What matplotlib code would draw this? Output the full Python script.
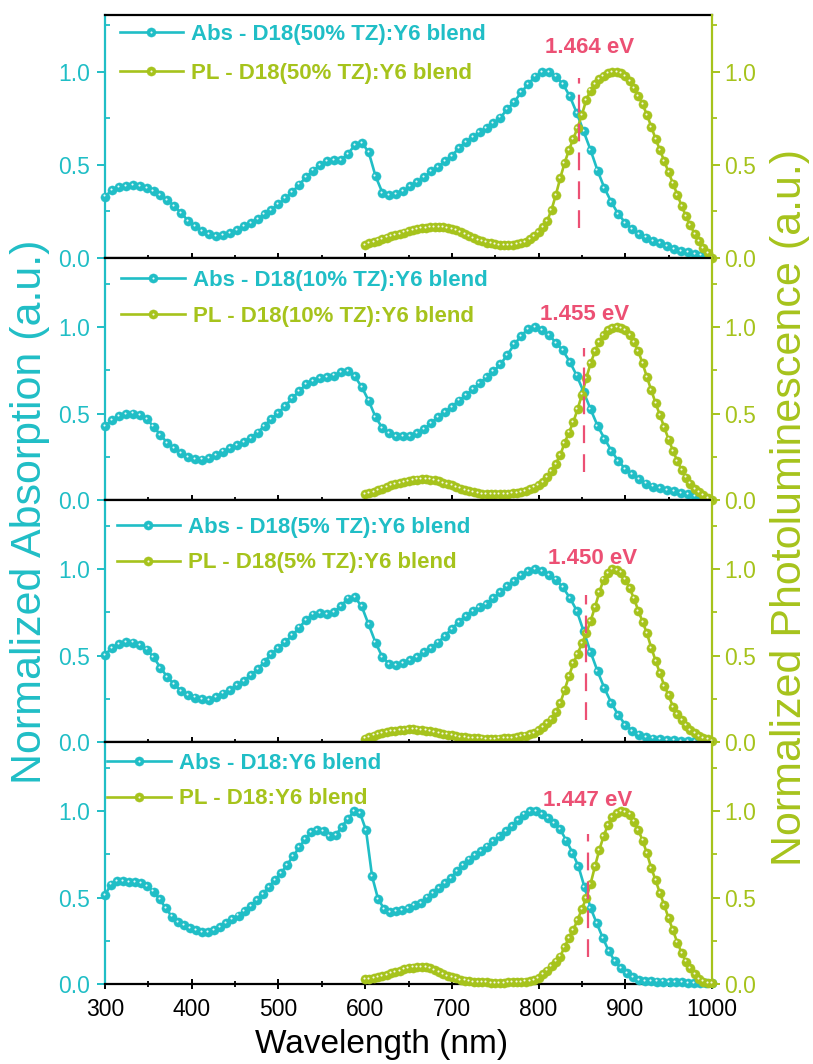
import numpy as np
import matplotlib
matplotlib.use('Agg')
import matplotlib.pyplot as plt
from matplotlib.transforms import offset_copy
from matplotlib.legend_handler import HandlerTuple
from matplotlib.ticker import MultipleLocator, FormatStrFormatter

plt.rcParams['font.family'] = ['Liberation Sans', 'DejaVu Sans']

TEAL = '#20BEC6'
LIME = '#A6C31C'
PINK = '#EC5074'

# wavelength grids (nm)
wl_abs = np.arange(300, 1000, 8)      # panels 1-3
wl_abs_d18 = np.arange(300, 1001, 7)  # panel 4
wl_pl = np.arange(600, 1001, 5)

# ---- D18(50% TZ):Y6 ----
abs_50 = [0.33, 0.365, 0.38, 0.388, 0.39, 0.385, 0.377, 0.36, 0.34, 0.31,
          0.28, 0.24, 0.20, 0.17, 0.145, 0.13, 0.12, 0.125, 0.135, 0.15,
          0.17, 0.19, 0.21, 0.235, 0.26, 0.29, 0.32, 0.355, 0.395, 0.435,
          0.47, 0.50, 0.52, 0.525, 0.525, 0.56, 0.605, 0.62, 0.57, 0.44,
          0.35, 0.34, 0.345, 0.36, 0.385, 0.41, 0.435, 0.465, 0.49, 0.52,
          0.55, 0.59, 0.625, 0.65, 0.675, 0.70, 0.725, 0.755, 0.80, 0.84,
          0.89, 0.935, 0.975, 0.998, 1.0, 0.975, 0.935, 0.87, 0.78, 0.68,
          0.58, 0.47, 0.375, 0.30, 0.235, 0.19, 0.155, 0.13, 0.11, 0.093,
          0.078, 0.062, 0.048, 0.038, 0.03, 0.022, 0.014, 0.005]
pl_50 = [0.07, 0.078, 0.086, 0.094, 0.102, 0.11, 0.118, 0.125, 0.131, 0.137,
         0.143, 0.149, 0.154, 0.159, 0.163, 0.166, 0.167, 0.167, 0.165, 0.162,
         0.157, 0.149, 0.139, 0.127, 0.116, 0.106, 0.097, 0.089, 0.083, 0.078,
         0.074, 0.071, 0.07, 0.07, 0.071, 0.073, 0.078, 0.086, 0.10, 0.12,
         0.14, 0.165, 0.20, 0.26, 0.34, 0.43, 0.51, 0.58, 0.64, 0.70,
         0.77, 0.85, 0.90, 0.935, 0.96, 0.98, 0.992, 0.999, 1.0, 0.993,
         0.978, 0.952, 0.915, 0.872, 0.825, 0.77, 0.705, 0.64, 0.58, 0.52,
         0.46, 0.40, 0.34, 0.28, 0.225, 0.175, 0.13, 0.09, 0.055, 0.025,
         0.0]

# ---- D18(10% TZ):Y6 ----
abs_10 = [0.43, 0.46, 0.485, 0.498, 0.50, 0.49, 0.468, 0.425, 0.375, 0.33,
          0.298, 0.272, 0.25, 0.238, 0.234, 0.243, 0.258, 0.28, 0.30, 0.317,
          0.337, 0.36, 0.39, 0.43, 0.47, 0.505, 0.545, 0.59, 0.63, 0.67,
          0.69, 0.703, 0.71, 0.72, 0.74, 0.745, 0.715, 0.655, 0.575, 0.48,
          0.415, 0.385, 0.37, 0.368, 0.372, 0.385, 0.41, 0.445, 0.48, 0.51,
          0.54, 0.575, 0.605, 0.64, 0.675, 0.71, 0.745, 0.785, 0.84, 0.90,
          0.95, 0.99, 1.0, 0.985, 0.955, 0.91, 0.865, 0.80, 0.72, 0.625,
          0.525, 0.43, 0.355, 0.285, 0.225, 0.18, 0.15, 0.122, 0.095, 0.078,
          0.068, 0.058, 0.05, 0.042, 0.034, 0.025, 0.016, 0.006]
pl_10 = [0.035, 0.038, 0.045, 0.055, 0.066, 0.077, 0.086, 0.094, 0.10, 0.106,
         0.111, 0.115, 0.118, 0.12, 0.12, 0.118, 0.114, 0.108, 0.10, 0.092,
         0.084, 0.075, 0.066, 0.058, 0.051, 0.045, 0.04, 0.036, 0.034, 0.032,
         0.032, 0.033, 0.034, 0.036, 0.038, 0.042, 0.047, 0.054, 0.062, 0.072,
         0.088, 0.106, 0.135, 0.17, 0.21, 0.26, 0.33, 0.39, 0.45, 0.525,
         0.61, 0.705, 0.79, 0.86, 0.915, 0.955, 0.983, 0.997, 1.0, 0.995,
         0.985, 0.955, 0.915, 0.86, 0.79, 0.71, 0.635, 0.56, 0.49, 0.42,
         0.35, 0.285, 0.225, 0.175, 0.13, 0.095, 0.065, 0.045, 0.028, 0.013,
         0.0]

# ---- D18(5% TZ):Y6 ----
abs_5 = [0.505, 0.544, 0.567, 0.577, 0.575, 0.562, 0.535, 0.49, 0.43, 0.375,
         0.333, 0.295, 0.27, 0.257, 0.246, 0.245, 0.258, 0.28, 0.303, 0.327,
         0.355, 0.386, 0.42, 0.465, 0.51, 0.544, 0.58, 0.617, 0.662, 0.708,
         0.737, 0.746, 0.742, 0.753, 0.785, 0.83, 0.838, 0.785, 0.68, 0.575,
         0.49, 0.452, 0.446, 0.456, 0.472, 0.492, 0.518, 0.545, 0.575, 0.615,
         0.655, 0.695, 0.73, 0.758, 0.78, 0.80, 0.835, 0.865, 0.90, 0.93,
         0.965, 0.99, 1.0, 0.988, 0.965, 0.94, 0.894, 0.835, 0.76, 0.64,
         0.52, 0.41, 0.31, 0.225, 0.155, 0.10, 0.065, 0.043, 0.03, 0.02,
         0.015, 0.012, 0.01, 0.008, 0.006, 0.004, 0.002, 0.001]
pl_5 = [0.02, 0.028, 0.037, 0.045, 0.051, 0.056, 0.061, 0.065, 0.069, 0.071,
        0.073, 0.073, 0.072, 0.07, 0.066, 0.062, 0.058, 0.053, 0.048, 0.043,
        0.038, 0.034, 0.03, 0.027, 0.025, 0.023, 0.021, 0.02, 0.019, 0.019,
        0.019, 0.02, 0.021, 0.023, 0.025, 0.028, 0.032, 0.037, 0.044, 0.053,
        0.068, 0.089, 0.11, 0.135, 0.175, 0.224, 0.30, 0.38, 0.455, 0.51,
        0.57, 0.63, 0.70, 0.78, 0.865, 0.94, 0.975, 0.998, 0.997, 0.98,
        0.94, 0.89, 0.83, 0.76, 0.695, 0.628, 0.545, 0.47, 0.397, 0.325,
        0.27, 0.204, 0.16, 0.125, 0.095, 0.07, 0.05, 0.035, 0.025, 0.015,
        0.008]

# ---- D18:Y6 ----
abs_0 = [0.516, 0.575, 0.595, 0.594, 0.59, 0.59, 0.585, 0.565, 0.535, 0.49,
         0.44, 0.39, 0.36, 0.34, 0.323, 0.31, 0.30, 0.298, 0.31, 0.33,
         0.355, 0.377, 0.396, 0.42, 0.453, 0.487, 0.521, 0.563, 0.602, 0.642,
         0.69, 0.74, 0.79, 0.84, 0.878, 0.893, 0.884, 0.858, 0.86, 0.91,
         0.955, 0.998, 0.99, 0.89, 0.623, 0.49, 0.435, 0.418, 0.42, 0.428,
         0.44, 0.455, 0.47, 0.50, 0.526, 0.555, 0.585, 0.615, 0.655, 0.69,
         0.72, 0.745, 0.77, 0.795, 0.825, 0.855, 0.885, 0.915, 0.95, 0.98,
         0.998, 0.998, 0.985, 0.96, 0.93, 0.894, 0.83, 0.76, 0.68, 0.56,
         0.44, 0.352, 0.268, 0.19, 0.132, 0.09, 0.062, 0.04, 0.025, 0.018,
         0.015, 0.014, 0.014, 0.013, 0.012, 0.01, 0.008, 0.007, 0.006, 0.005,
         0.004]
pl_0 = [0.027, 0.03, 0.035, 0.04, 0.046, 0.053, 0.061, 0.069, 0.077, 0.084,
        0.09, 0.095, 0.099, 0.10, 0.098, 0.092, 0.082, 0.07, 0.058, 0.048,
        0.04, 0.032, 0.025, 0.02, 0.016, 0.013, 0.011, 0.01, 0.009, 0.008,
        0.008, 0.008, 0.008, 0.009, 0.01, 0.011, 0.012, 0.014, 0.018, 0.025,
        0.036, 0.055, 0.078, 0.105, 0.13, 0.159, 0.215, 0.265, 0.313, 0.37,
        0.435, 0.497, 0.58, 0.68, 0.775, 0.855, 0.92, 0.965, 0.99, 1.0,
        0.997, 0.98, 0.94, 0.89, 0.83, 0.755, 0.67, 0.60, 0.525, 0.455,
        0.38, 0.31, 0.24, 0.18, 0.13, 0.09, 0.055, 0.03, 0.014, 0.007,
        0.004]

blends = ['D18(50% TZ):Y6', 'D18(10% TZ):Y6', 'D18(5% TZ):Y6', 'D18:Y6']
abs_x = [wl_abs, wl_abs, wl_abs, wl_abs_d18]
abs_y = [abs_50, abs_10, abs_5, abs_0]
pl_y = [pl_50, pl_10, pl_5, pl_0]
gap_ev = [1.464, 1.455, 1.450, 1.447]
gap_span = [(0.16, 0.97), (0.16, 0.88), (0.13, 0.85), (0.155, 0.87)]
gap_label_xy = [(859, 1.13), (853, 1.075), (862, 1.06), (856, 1.06)]
y_top = [1.306, 1.40, 1.40, 1.40]

W, H = 813, 1064
fig = plt.figure(figsize=(W / 100, H / 100), dpi=100)
x0, x1 = 105, 712
edges = [15, 258, 500, 742, 984]
leg_anchor = [(0.024, 0.962), (0.027, 0.95), (0.019, 0.93), (0.004, 0.955)]
leg_space = [0.8, 0.65, 0.65, 0.65]


def balls(ax, x, y, color, ms=6.6):
    line, = ax.plot(x, y, '-o', color=color, lw=1.9, ms=ms, mec=color,
                    mew=0.3, zorder=3, clip_on=False)
    tr = offset_copy(ax.transData, fig=ax.figure, x=-0.8, y=0.8, units='points')
    hl, = ax.plot(x, y, 'o', color='white', ms=1.5, mew=0, alpha=0.9,
                  transform=tr, zorder=4, clip_on=False)
    return line, hl


for i in range(4):
    top, bot = edges[i], edges[i + 1]
    ax = fig.add_axes([x0 / W, 1 - bot / H, (x1 - x0) / W, (bot - top) / H])
    ax2 = ax.twinx()

    a = balls(ax, abs_x[i], abs_y[i], TEAL)
    p = balls(ax2, wl_pl, pl_y[i], LIME)

    for axx in (ax, ax2):
        axx.set_xlim(300, 1000)
        axx.set_ylim(0, y_top[i])
        axx.set_yticks([0, 0.5, 1.0])
        axx.yaxis.set_minor_locator(MultipleLocator(0.25))
        axx.yaxis.set_major_formatter(FormatStrFormatter('%.1f'))

    ax.xaxis.set_major_locator(MultipleLocator(100))
    ax.xaxis.set_minor_locator(MultipleLocator(50))
    ax.tick_params(axis='x', which='major', direction='inout', length=7.5,
                   width=1.4, labelsize=16.5, pad=6, colors='black',
                   labelbottom=(i == 3))
    ax.tick_params(axis='x', which='minor', direction='inout', length=4.5, width=1.3)
    ax.tick_params(axis='y', which='major', direction='out', length=5.5,
                   width=1.4, labelsize=16.5, pad=5, colors=TEAL)
    ax.tick_params(axis='y', which='minor', direction='in', length=3.5,
                   width=1.3, colors=TEAL)
    ax2.tick_params(axis='y', which='major', direction='out', length=5.5,
                    width=1.4, labelsize=16.5, pad=3, colors=LIME)
    ax2.tick_params(axis='y', which='minor', direction='out', length=3.5,
                    width=1.3, colors=LIME)

    ax.spines['left'].set_color(TEAL)
    ax.spines['right'].set_visible(False)
    for s in ('top', 'bottom', 'left'):
        ax.spines[s].set_linewidth(1.6)
    ax.spines['top'].set_color('black')
    ax.spines['bottom'].set_color('black')
    for s in ('top', 'bottom', 'left'):
        ax2.spines[s].set_visible(False)
    ax2.spines['right'].set_color(LIME)
    ax2.spines['right'].set_linewidth(1.6)

    # optical gap marker
    xg = 1239.84 / gap_ev[i]
    ax2.plot([xg, xg], gap_span[i], color=PINK, lw=1.6, ls=(0, (8, 5)), zorder=5)
    ax2.text(gap_label_xy[i][0], gap_label_xy[i][1], f'{gap_ev[i]:.3f} eV',
             color=PINK, fontsize=16, fontweight='bold', ha='center', va='center')

    leg = ax2.legend([a, p], [f'Abs - {blends[i]} blend', f'PL - {blends[i]} blend'],
                     handler_map={tuple: HandlerTuple(ndivide=1)},
                     loc='upper left', bbox_to_anchor=leg_anchor[i],
                     frameon=False, prop={'weight': 'bold', 'size': 16},
                     handlelength=2.85, handletextpad=0.35,
                     labelspacing=leg_space[i], borderaxespad=0, borderpad=0,
                     numpoints=1)
    for t, c in zip(leg.get_texts(), [TEAL, LIME]):
        t.set_color(c)

fig.text(30 / W, 1 - 512 / H, 'Normalized Absorption (a.u.)', rotation=90,
         color=TEAL, fontsize=31, ha='center', va='center')
fig.text(790 / W, 1 - 507 / H, 'Normalized Photoluminescence (a.u.)', rotation=90,
         color=LIME, fontsize=31, ha='center', va='center')
fig.text(382 / W, 1 - 1045 / H, 'Wavelength (nm)', color='black', fontsize=24,
         ha='center', va='center')

fig.savefig('out.png', dpi=100)
